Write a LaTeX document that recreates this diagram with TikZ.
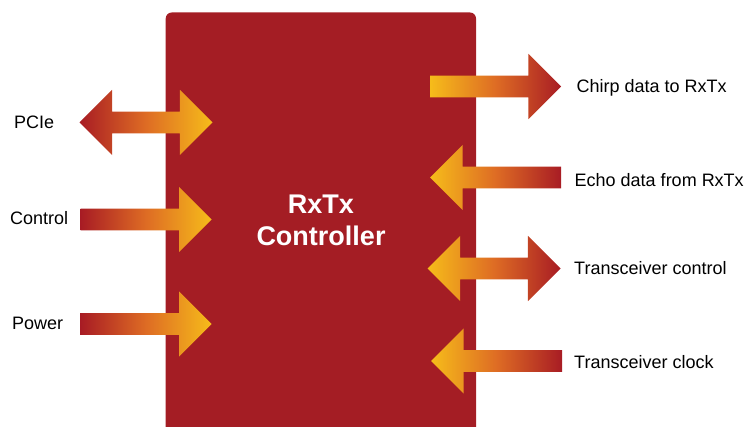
\documentclass[tikz,border=0pt]{standalone}
\usepackage{fontspec}
\setmainfont{Liberation Sans}
\usetikzlibrary{shapes.arrows}
\definecolor{ctrlRed}{RGB}{164,29,36}
\definecolor{arrRed}{RGB}{168,28,36}
\definecolor{arrOrange}{RGB}{222,108,36}
\definecolor{arrYellow}{RGB}{246,188,26}
\tikzset{
  ctrlBox/.style={rectangle, fill=ctrlRed, rounded corners=6pt, inner sep=0pt,
    minimum width=310.3pt, minimum height=430pt},
  ctrlTitle/.style={text=white, align=center, inner sep=0pt,
    font=\bfseries\fontsize{27}{32}\selectfont},
  oneArrow/.style={single arrow, draw=none, inner xsep=0pt, inner ysep=10.75pt,
    outer sep=0pt, single arrow head extend=21.75pt, single arrow tip angle=90,
    minimum height=131pt},
  twoArrow/.style={double arrow, draw=none, inner xsep=0pt, inner ysep=10.75pt,
    outer sep=0pt, double arrow head extend=21.75pt, double arrow tip angle=90,
    minimum height=133pt},
  redToYellow/.style={left color=arrRed, right color=arrYellow, middle color=arrOrange},
  yellowToRed/.style={left color=arrYellow, right color=arrRed, middle color=arrOrange},
  sigLabel/.style={anchor=base west, inner sep=0pt, font=\fontsize{18}{21}\selectfont}
}

\begin{document}
\begin{tikzpicture}[x=1pt,y=-1pt]
\useasboundingbox (0,0) rectangle (744,427);
% controller block
\node[ctrlBox] (ctrl) at (320.85,227.5) {};
\node[ctrlTitle, anchor=base] (ctrlName) at (321,246) {RxTx\\Controller};
% left side
\node[twoArrow, redToYellow] (pcieArr) at (146,122.5) {};
\node[oneArrow, redToYellow, anchor=tail] (ctlArr) at (80.7,219.5) {};
\node[oneArrow, redToYellow, anchor=tail] (pwrArr) at (80.7,324) {};
\node[sigLabel] (pcie) at (14,128.3) {PCIe};
\node[sigLabel] (ctl) at (10,225) {Control};
\node[sigLabel] (pwr) at (12,329.3) {Power};
% right side
\node[oneArrow, yellowToRed, anchor=tail] (chirpArr) at (430,86.5) {};
\node[oneArrow, yellowToRed, shape border rotate=180, anchor=tip] (echoArr) at (430,177.5) {};
\node[twoArrow, yellowToRed] (trxArr) at (494,268.5) {};
\node[oneArrow, yellowToRed, shape border rotate=180, anchor=tip] (clkArr) at (431,361) {};
\node[sigLabel] (chirp) at (576.5,92.3) {Chirp data to RxTx};
\node[sigLabel] (echo) at (574.5,186.7) {Echo data from RxTx};
\node[sigLabel] (trx) at (574,274.3) {Transceiver control};
\node[sigLabel] (clk) at (574,368.3) {Transceiver clock};
\end{tikzpicture}
\end{document}
